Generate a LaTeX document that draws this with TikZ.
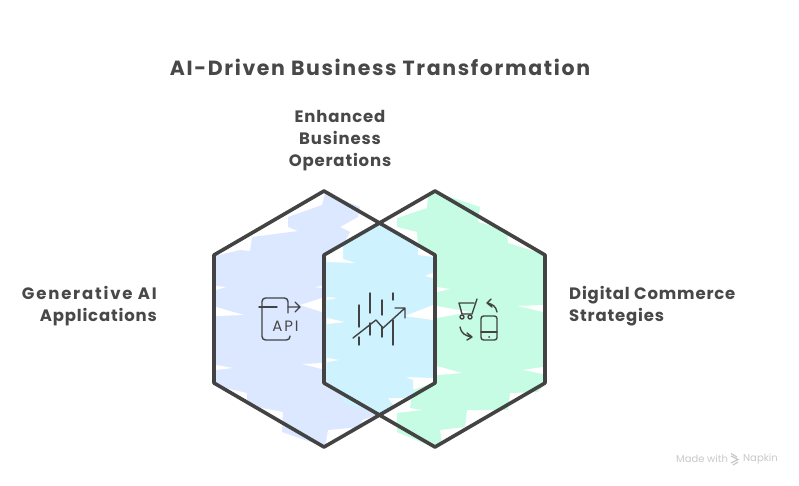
\documentclass[tikz,border=0pt]{standalone}
\usepackage{fontspec}
\setmainfont{Poppins}
\newfontfamily\inkfont[LetterSpace=5]{Poppins}
\newfontfamily\titlefont[LetterSpace=8]{Poppins}
\newfontfamily\genfont[LetterSpace=11]{Poppins}
\newfontfamily\apifont[LetterSpace=12]{Poppins}
\definecolor{ink}{HTML}{484848}
\definecolor{linecol}{HTML}{434343}
\definecolor{blue1}{HTML}{DCE8FF}
\definecolor{green1}{HTML}{C6FCE4}
\definecolor{cyan1}{HTML}{CFF2FF}
\definecolor{markgrey}{HTML}{C9C9C9}
\tikzset{
 hexline/.style={draw=linecol,line width=3.6pt,line join=round},
 icon/.style={draw=linecol,line width=1.4pt,line cap=round,line join=round},
 txt/.style={text=ink,font=\inkfont\bfseries\fontsize{16.5}{22}\selectfont,inner sep=0pt},
 notch/.style={fill=white,draw=none}
}
\begin{document}
\begin{tikzpicture}[x=1pt,y=-1pt]
\useasboundingbox (0,0) rectangle (799,486);
\fill[white] (0,0) rectangle (799,486);
% blue wash
\fill[blue1] (325,193)--(360,207)--(358,217)--(340,227)--(350,232)--(344,243)--(330,255)--(330,380)--(380,414)--(362,420)--(360,427)--(328,430)--(325,447)--(282,432)--(283,412)--(247,405)--(247,393)--(213,385)--(215,256)--(240,250)--(250,251)--(252,237)--(298,231)--(288,227)--(288,217)--(322,205)--cycle;
% green wash
\fill[green1] (435,192)--(480,207)--(478,222)--(507,230)--(508,243)--(546,255)--(546,382)--(538,392)--(510,393)--(508,410)--(467,410)--(465,427)--(440,430)--(442,443)--(433,447)--(397,432)--(397,413)--(423,410)--(410,408)--(413,390)--(433,383)--(433,370)--(430,260)--(418,245)--(417,232)--(397,227)--(397,218)--(427,208)--(428,197)--cycle;
% overlap wash
\fill[cyan1] (380,224)--(435,255)--(435,378)--(405,377)--(413,380)--(413,398)--(388,398)--(393,405)--(380,414)--(360,408)--(343,403)--(343,393)--(326,381)--(324,255)--cycle;
% white streaks
\fill[notch] (216,307)--(244,315)--(216,316)--cycle;
\fill[notch] (216,286)--(226,287)--(216,290)--cycle;
\fill[notch] (216,365)--(233,368)--(216,370)--cycle;
\fill[notch] (322,298)--(300,305)--(322,312)--cycle;
\fill[notch] (322,286)--(314,287)--(322,288)--cycle;
\fill[notch] (302,364)--(322,363)--(322,369)--cycle;
\fill[notch] (327,318)--(345,322)--(327,324)--cycle;
\fill[notch] (327,297)--(337,298)--(327,300)--cycle;
\fill[notch] (327,358)--(339,360)--(327,362)--cycle;
\fill[notch] (326,254)--(343,244)--(343,259)--(355,263)--(327,262)--cycle;
\fill[notch] (418,244)--(434,254)--(434,257)--(418,255)--cycle;
\fill[notch] (433,305)--(405,316)--(433,320)--cycle;
\fill[notch] (433,273)--(425,276)--(433,278)--cycle;
\fill[notch] (437,287)--(450,289)--(437,292)--cycle;
\fill[notch] (437,306)--(470,312)--(437,318)--cycle;
\fill[notch] (437,366)--(462,373)--(437,375)--cycle;
\fill[notch] (543,305)--(518,306)--(543,312)--cycle;
\fill[notch] (543,367)--(523,370)--(543,374)--cycle;
% hexagons
\path[hexline] (324,191)--(435,255)--(435,383)--(324,447)--(214,383)--(214,255)--cycle;
\path[hexline] (435,191)--(545,255)--(545,383)--(435,447)--(324,383)--(324,255)--cycle;
% API icon
\draw[icon,rounded corners=3.5pt] (288,313)--(288,298)--(262,298)--(262,340)--(290,340)--(290,336);
\draw[icon] (259,307)--(277,307);
\draw[icon] (288,307)--(300,307) (295,302)--(300,307)--(295,312);
\node[text=ink,font=\apifont\fontsize{15}{15}\selectfont,inner sep=0pt] (api) at (285.5,326) {API};
% chart icon
\draw[icon] (359,305)--(359,327) (359,337)--(359,345) (370,293)--(370,313) (370,323)--(370,335) (382,300)--(382,315) (382,327)--(382,337) (393,293)--(393,300) (393,320)--(393,345);
\draw[icon] (353,338)--(376,320)--(383,328)--(405,308) (395,308)--(405,308)--(405,318);
% commerce icon
\draw[icon] (477,299)--(472,314)--(462,314)--(459,303)--(474,303);
\draw[icon] (462,317) circle[radius=2] (470,317) circle[radius=2];
\draw[icon,rounded corners=2.5pt] (481,316) rectangle (497,340);
\draw[icon] (481,332)--(497,332);
\fill[linecol] (489,337) circle[radius=1];
\draw[icon] (497,312) .. controls (496,306) and (492,304) .. (487,303) (491,299)--(487,303)--(492,307);
\draw[icon] (460,327) .. controls (461,333) and (465,336) .. (472,337) (467,333)--(472,337)--(467,340);
% texts
\node[txt,font=\titlefont\bfseries\fontsize{20.5}{24}\selectfont] (title) at (380,67) {AI-Driven Business Transformation};
\node[txt,align=center] (ops) at (340,141) {Enhanced\\Business\\Operations};
\node[txt,align=right,anchor=east] (gen) at (157,306) {{\genfont\bfseries Generative AI}\\Applications};
\node[txt,align=left,anchor=west] (dig) at (569,306) {Digital Commerce\\Strategies};
% footer
\node[text=markgrey,font=\fontsize{10}{12}\selectfont,inner sep=0pt,anchor=west] (made) at (676,459) {Made with};
\node[text=markgrey,font=\fontsize{10}{12}\selectfont,inner sep=0pt,anchor=west] (napkin) at (743,459) {Napkin};
\draw[markgrey,line width=1.2pt] (731,456)--(738,459.5)--(731,463) (731,453.5)--(737,457) (733,465)--(738,462);
\end{tikzpicture}
\end{document}
